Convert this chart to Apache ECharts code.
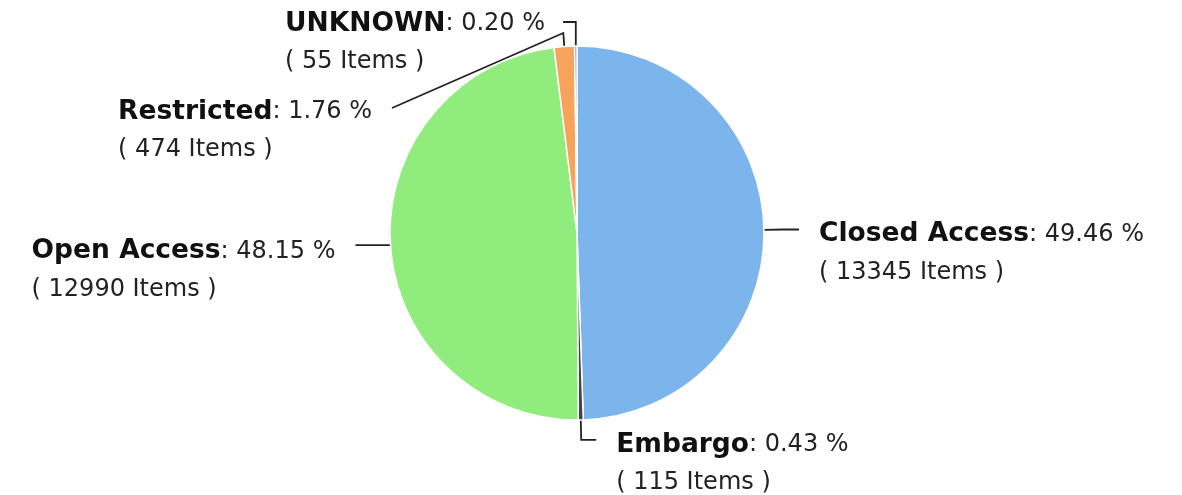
<!DOCTYPE html>
<html>
<head>
<meta charset="utf-8">
<script src="https://cdn.jsdelivr.net/npm/echarts@6/dist/echarts.min.js"></script>
<style>
  html, body { margin: 0; padding: 0; background: #fff; }
  #container { width: 1182px; height: 495px; }
</style>
</head>
<body>
<div id="container"></div>
<script>
    // 访问类型
    var names = ['Closed Access', 'Embargo', 'Open Access', 'Restricted', 'UNKNOWN'];
    var items = [13345, 115, 12990, 474, 55];
    var percents = [49.46, 0.43, 48.15, 1.76, 0.20];
    var colors = ['#7cb5ec', '#434348', '#90ed7d', '#f7a35c', '#8085e9'];

    var dataMap = [];
    for (var i = 0; i < names.length; i++) {
        dataMap.push({ name: names[i], value: items[i], pct: percents[i], itemStyle: { color: colors[i] } });
    }

    var option = {
        animation: false,
        series: [
            {
                type: 'pie',
                center: [577, 233],
                radius: 187,
                startAngle: 90,
                clockwise: true,
                avoidLabelOverlap: false,
                itemStyle: { borderColor: '#fff', borderWidth: 1.5 },
                label: {
                    show: true,
                    fontFamily: 'DejaVu Sans',
                    fontSize: 24,
                    color: '#222',
                    lineHeight: 38,
                    padding: [48, 0, 0, 0],
                    distanceToLabelLine: 20,
                    formatter: function (p) {
                        return '{b|' + p.name + '}: ' + p.data.pct.toFixed(2) + ' %\n( ' + p.value + ' Items )';
                    },
                    rich: {
                        b: { fontWeight: 'bold', fontFamily: 'DejaVu Sans', fontSize: 26.5, color: '#111', lineHeight: 38 }
                    }
                },
                labelLine: {
                    show: true,
                    length: 20,
                    length2: 15,
                    lineStyle: { color: '#222', width: 1.8 }
                },
                // 左侧标签文字左对齐；顶部两个小扇区的标签挪开
                labelLayout: function (params) {
                    var p0 = params.labelLinePoints && params.labelLinePoints[0];
                    var r = params.labelRect;
                    if (!p0) return {};
                    if (params.dataIndex === 3) {
                        return {
                            x: 372 - r.width, y: 107, align: 'left', verticalAlign: 'middle',
                            labelLinePoints: [p0, [p0[0] - 1, 33], [392, 108]]
                        };
                    }
                    if (params.dataIndex === 4) {
                        return {
                            x: 545 - r.width, y: 19, align: 'left', verticalAlign: 'middle',
                            labelLinePoints: [p0, [p0[0], 22], [563, 22]]
                        };
                    }
                    if (params.dataIndex === 2) {
                        var pts = params.labelLinePoints;
                        return {
                            x: r.x, y: r.y + r.height / 2, align: 'left', verticalAlign: 'middle',
                            labelLinePoints: [p0, [pts[2][0], p0[1]]]
                        };
                    }
                    return {};
                },
                data: dataMap
            }
        ]
    };
    var myChart = echarts.init(document.getElementById('container'));
    myChart.setOption(option);
</script>
</body>
</html>
